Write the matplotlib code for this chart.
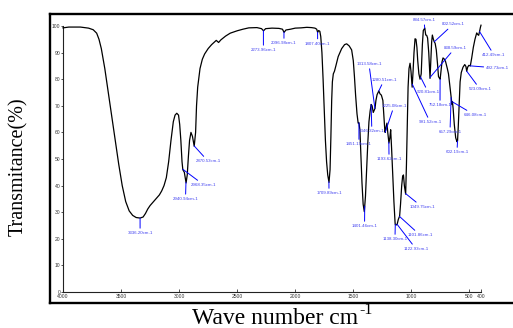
import numpy as np
import matplotlib
matplotlib.use("Agg")
import matplotlib.pyplot as plt
from matplotlib.lines import Line2D

plt.rcParams['font.family'] = ['Liberation Serif', 'DejaVu Serif']

# FTIR spectrum: wavenumber (cm-1) and transmittance (%)
wavenumber = [
    4000, 3950, 3850, 3780, 3740, 3710, 3690, 3670, 3640, 3610, 3580, 3550,
    3520, 3490, 3460, 3430, 3400, 3370, 3336, 3310, 3290, 3270, 3250, 3230,
    3200, 3170, 3150, 3130, 3110, 3090, 3070, 3050, 3035, 3020, 3005, 2995,
    2985, 2975, 2968, 2955, 2940, 2930, 2920, 2910, 2898, 2885, 2870, 2858,
    2850, 2840, 2820, 2800, 2780, 2750, 2720, 2700, 2680, 2660, 2640, 2600,
    2560, 2500, 2450, 2400, 2330, 2290, 2273, 2255, 2200, 2140, 2110, 2096,
    2080, 2040, 2000, 1950, 1900, 1860, 1830, 1815, 1807, 1798, 1788, 1780,
    1770, 1760, 1750, 1740, 1730, 1720, 1709, 1700, 1693, 1686, 1680, 1672,
    1662, 1650, 1630, 1600, 1575, 1557, 1535, 1514, 1500, 1490, 1480, 1468,
    1458, 1451, 1443, 1435, 1425, 1415, 1405, 1395, 1385, 1375, 1365, 1355,
    1346, 1338, 1328, 1318, 1313, 1305, 1295, 1280, 1270, 1258, 1245, 1236,
    1228, 1225, 1218, 1210, 1203, 1193, 1185, 1178, 1170, 1160, 1150, 1140,
    1138, 1130, 1122, 1112, 1101, 1093, 1083, 1075, 1068, 1060, 1049, 1042,
    1035, 1028, 1020, 1011, 1003, 993, 985, 977, 968, 960, 952, 945,
    935, 925, 915, 905, 897, 884, 876, 868, 860, 850, 839, 831,
    825, 819, 810, 802, 795, 785, 775, 766, 757, 752, 745, 736,
    727, 715, 705, 690, 680, 667, 657, 650, 646, 640, 630, 618,
    607, 602, 596, 588, 580, 570, 555, 540, 530, 523, 515, 505,
    492, 480, 466, 452, 437, 428, 420, 412, 405, 400,
]
transmittance = [
    99.3, 99.6, 99.6, 99.2, 98.6, 97.3, 95.0, 91.5, 84.0, 75.0, 66.0, 57.0,
    48.0, 40.0, 34.0, 30.5, 28.8, 28.0, 27.8, 28.2, 29.5, 31.2, 32.5, 33.5,
    35.0, 36.5, 38.0, 40.0, 43.0, 49.0, 57.0, 64.0, 66.5, 67.2, 66.5, 63.0,
    57.0, 49.0, 46.0, 45.0, 41.0, 44.0, 51.0, 57.0, 60.0, 58.5, 54.8, 60.0,
    70.0, 77.0, 84.0, 87.5, 89.5, 91.5, 93.0, 93.8, 94.6, 93.8, 94.8, 96.2,
    97.3, 98.2, 98.8, 99.3, 99.4, 99.0, 98.2, 99.0, 99.2, 99.1, 98.8, 97.6,
    98.5, 98.8, 99.2, 99.3, 99.5, 99.4, 99.2, 98.8, 97.6, 98.3, 98.0, 96.0,
    90.0, 80.0, 68.0, 57.0, 49.0, 44.0, 41.2, 46.0, 58.0, 72.0, 79.0, 82.0,
    83.0, 85.0, 88.5, 91.5, 93.0, 93.3, 92.5, 91.0, 87.0, 81.0, 74.0, 67.0,
    63.5, 63.6, 61.0, 52.0, 41.0, 33.0, 30.2, 36.0, 46.0, 56.0, 64.0, 68.0,
    70.5, 70.0, 67.5, 68.5, 69.0, 72.0, 74.2, 75.6, 74.5, 74.0, 72.0, 66.0,
    60.5, 60.0, 62.0, 63.5, 60.0, 56.0, 58.0, 61.0, 54.0, 44.0, 34.0, 26.0,
    25.3, 25.2, 25.5, 27.3, 28.5, 33.0, 40.0, 43.5, 44.0, 40.0, 36.8, 48.0,
    62.0, 77.0, 84.0, 86.0, 83.0, 77.0, 83.0, 90.0, 95.2, 95.0, 92.0, 87.0,
    82.0, 80.0, 82.0, 93.0, 98.3, 99.2, 96.6, 96.5, 95.5, 90.0, 80.3, 88.0,
    94.0, 96.6, 95.0, 94.0, 93.5, 91.0, 86.0, 81.0, 80.3, 80.0, 83.0, 86.5,
    88.0, 87.5, 86.6, 84.0, 82.0, 77.0, 73.0, 70.5, 71.5, 69.0, 63.0, 58.0,
    56.5, 56.8, 62.0, 71.0, 79.0, 82.5, 84.5, 85.5, 84.8, 83.0, 84.5, 85.2,
    85.0, 88.0, 92.0, 95.0, 97.4, 96.8, 96.5, 98.0, 99.5, 100.3,
]

# Marked bands
peak_wn = [3336.20, 2968.35, 2940.94, 2870.53, 2273.96, 2096.98, 1807.40,
           1709.89, 1451.19, 1401.46, 1346.32, 1313.58, 1280.51, 1225.08,
           1193.62, 1138.30, 1122.93, 1101.86, 1049.75, 991.52, 920.81,
           884.57, 838.59, 802.52, 752.18, 657.29, 646.08, 602.19, 523.09,
           492.73, 412.49]
peak_labels = [f"{w:.2f}cm-1" for w in peak_wn]

# Label anchor positions (wavenumber, transmittance) for each marked band
label_pos = [(3336, 22.2), (2786, 40.2), (2945, 35.0), (2751, 49.2),
             (2274, 91.0), (2097, 93.6), (1807, 93.4), (1709, 37.2),
             (1451, 55.6), (1403, 24.8), (1340, 60.5), (1365, 85.7),
             (1235, 79.7), (1149, 69.9), (1192, 50.0), (1141, 19.9),
             (960, 16.2), (925, 21.4), (908, 32.0), (839, 63.9),
             (856, 75.2), (891, 102.2), (624, 91.7), (641, 100.6),
             (753, 70.3), (667, 60.2), (452, 66.5), (607, 52.6),
             (409, 76.3), (254, 84.2), (288, 89.1)]

W, H = 513, 328
fig = plt.figure(figsize=(W / 100, H / 100), dpi=100)
ax = fig.add_axes([63 / W, 36 / H, 418 / W, 266 / H])

ax.plot(wavenumber, transmittance, color='black', lw=0.9, clip_on=False,
        zorder=3)
ax.set_xlim(4000, 400)
ax.set_ylim(0, 100)

blue_line = '#0000ff'
blue_text = '#4040f0'
for w, lab, (tx, ty) in zip(peak_wn, peak_labels, label_pos):
    yv = float(np.interp(w, wavenumber[::-1], transmittance[::-1]))
    ax.annotate(lab, xy=(w, yv), xytext=(tx, ty), textcoords='data',
                ha='center', va='center', fontsize=3.2, color=blue_text,
                family=['Liberation Sans', 'DejaVu Sans'],
                annotation_clip=False, zorder=4,
                arrowprops=dict(arrowstyle='-', color=blue_line, lw=0.7,
                                shrinkA=0, shrinkB=0))

ax.set_xticks([4000, 3500, 3000, 2500, 2000, 1500, 1000, 500, 400])
ax.set_yticks(np.arange(0, 101, 10))
for lbl in ax.get_xticklabels() + ax.get_yticklabels():
    lbl.set_family(['Liberation Sans', 'DejaVu Sans'])
ax.tick_params(axis='x', direction='in', length=2.2, width=0.6, pad=1.5,
               labelsize=3.6, labelcolor='#333333', color='#333333')
ax.tick_params(axis='y', direction='out', length=1.5, width=0.6, pad=0.5,
               labelsize=3.6, labelcolor='#333333', color='#333333')
for s in ('top', 'right'):
    ax.spines[s].set_visible(False)
for s in ('left', 'bottom'):
    ax.spines[s].set_linewidth(0.8)
    ax.spines[s].set_color('#222222')

# Outer frame
fl = 49.5 / W
ft = 1 - 13.8 / H
fb = 1 - 303 / H
for xs, ys in (([fl, 1.01], [ft, ft]), ([fl, 1.01], [fb, fb]),
               ([fl, fl], [fb, ft])):
    fig.add_artist(Line2D(xs, ys, transform=fig.transFigure, color='black',
                          lw=1.7, solid_capstyle='projecting'))

fig.text(18.5 / W, 1 - 167 / H, 'Transmitance(%)', rotation=90,
         ha='center', va='center', fontsize=14.5)

# x-axis title with a raised "-1" exponent
xt = fig.text(275 / W, 4.5 / H, 'Wave number cm', ha='center',
              va='baseline', fontsize=17)
renderer = fig.canvas.get_renderer()
bb = xt.get_window_extent(renderer)
fig.text((bb.x1 + 1.5) / W, 14.5 / H, '-1', ha='left', va='baseline',
         fontsize=11.5)

fig.savefig('out.png', dpi=100)
